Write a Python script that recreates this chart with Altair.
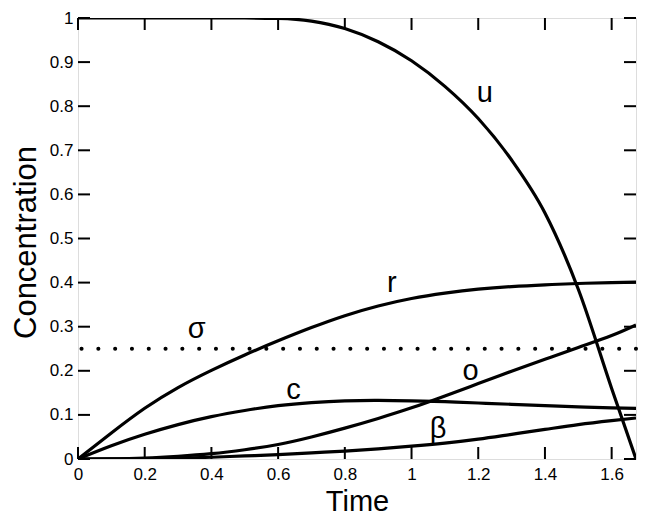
import altair as alt
import pandas as pd

# ---- data ----
time = [0, 0.1, 0.2, 0.3, 0.4, 0.5, 0.6, 0.7, 0.8, 0.9, 1.0, 1.1, 1.2, 1.3, 1.4, 1.5, 1.6, 1.673]
u = [1, 1, 1, 1, 1, 1, 0.999, 0.993, 0.976, 0.946, 0.903, 0.845, 0.772, 0.678, 0.558, 0.385, 0.16, 0.0]
r = [0, 0.059, 0.115, 0.162, 0.201, 0.236, 0.268, 0.298, 0.325, 0.347, 0.364, 0.376, 0.385, 0.391, 0.395, 0.398, 0.4, 0.401]
c = [0, 0.03, 0.056, 0.078, 0.096, 0.11, 0.121, 0.128, 0.132, 0.133, 0.132, 0.13, 0.127, 0.124, 0.121, 0.118, 0.116, 0.115]
o = [0, 0.0003, 0.002, 0.006, 0.012, 0.021, 0.033, 0.05, 0.07, 0.092, 0.116, 0.143, 0.171, 0.199, 0.226, 0.253, 0.28, 0.304]
beta = [0, 0.0003, 0.001, 0.002, 0.004, 0.007, 0.01, 0.014, 0.018, 0.023, 0.029, 0.036, 0.045, 0.056, 0.067, 0.078, 0.087, 0.093]
sigma_level = 0.25

label_text = ["u", "r", "σ", "c", "o", "β"]
label_x = [1.22, 0.941, 0.356, 0.646, 1.177, 1.08]
label_y = [0.83, 0.398, 0.294, 0.156, 0.2, 0.069]

x_ticks = [0, 0.2, 0.4, 0.6, 0.8, 1.0, 1.2, 1.4, 1.6]
y_ticks = [0, 0.1, 0.2, 0.3, 0.4, 0.5, 0.6, 0.7, 0.8, 0.9, 1.0]
x_max = 1.673

W, H = 558, 441
FONT = "Liberation Sans"

def long_form(series):
    rows = []
    for name, vals in series.items():
        for t, v in zip(time, vals):
            rows.append({"series": name, "time": t, "value": v})
    return pd.DataFrame(rows)

df_u = long_form({"u": u})
df_rest = long_form({"r": r, "c": c, "o": o, "beta": beta})

xscale = alt.Scale(domain=[0, x_max], nice=False, zero=False)
yscale = alt.Scale(domain=[0, 1], nice=False)

xaxis = alt.Axis(values=x_ticks, format=".1~f", ticks=False, domain=False, grid=False,
                 labelFontSize=17, labelPadding=7, labelFlush=False, labelColor="black",
                 title="Time", titleFontSize=29, titleFontWeight="normal", titleColor="black",
                 titleBaseline="alphabetic", titleY=51)
yaxis = alt.Axis(values=y_ticks, format=".1~f", ticks=False, domain=False, grid=False,
                 labelFontSize=17, labelPadding=5, labelFlush=False, labelColor="black",
                 title="Concentration", titleFontSize=31, titleFontWeight="normal", titleColor="black",
                 titleBaseline="alphabetic", titleX=-43, titleY=224, titleAngle=-90)

line_u = alt.Chart(df_u).mark_line(color="black", strokeWidth=3.2, interpolate="monotone", clip=True).encode(
    x=alt.X("time:Q", scale=xscale, axis=xaxis),
    y=alt.Y("value:Q", scale=yscale, axis=yaxis),
    detail="series:N",
)
line_rest = alt.Chart(df_rest).mark_line(color="black", strokeWidth=3.2, interpolate="natural", clip=True).encode(
    x=alt.X("time:Q", scale=xscale),
    y=alt.Y("value:Q", scale=yscale),
    detail="series:N",
)

sigma = alt.Chart(pd.DataFrame({"level": [sigma_level]})).mark_rule(
    color="black", strokeWidth=4, strokeCap="round", strokeDash=[0.1, 16.7]
).encode(y=alt.Y("level:Q", scale=yscale))

labels = alt.Chart(pd.DataFrame({"x": label_x, "y": label_y, "text": label_text})).mark_text(
    font=FONT, fontSize=29, color="black", baseline="middle", align="center"
).encode(x=alt.X("x:Q", scale=xscale), y=alt.Y("y:Q", scale=yscale), text="text:N")

xt = pd.DataFrame({"t": x_ticks})
yt = pd.DataFrame({"t": y_ticks})
tick_len = 12
bottom_ticks = alt.Chart(xt).mark_rule(color="black", strokeWidth=2).encode(
    x=alt.X("t:Q", scale=xscale), y=alt.value(H), y2=alt.value(H - tick_len))
top_ticks = alt.Chart(xt).mark_rule(color="black", strokeWidth=2).encode(
    x=alt.X("t:Q", scale=xscale), y=alt.value(0), y2=alt.value(tick_len))
left_ticks = alt.Chart(yt).mark_rule(color="black", strokeWidth=2).encode(
    y=alt.Y("t:Q", scale=yscale), x=alt.value(0), x2=alt.value(tick_len))
right_ticks = alt.Chart(yt).mark_rule(color="black", strokeWidth=2).encode(
    y=alt.Y("t:Q", scale=yscale), x=alt.value(W), x2=alt.value(W - tick_len))

chart = alt.layer(line_u, line_rest, sigma, labels, bottom_ticks, top_ticks, left_ticks, right_ticks).properties(
    width=W, height=H,
    autosize=alt.AutoSizeParams(type="none"),
    padding={"left": 70, "top": 10, "right": 5, "bottom": 60},
    background="white",
).configure_view(stroke="black", strokeWidth=2.5).configure(font=FONT)

chart.save("out.html", embed_options={"renderer": "svg", "actions": False})
